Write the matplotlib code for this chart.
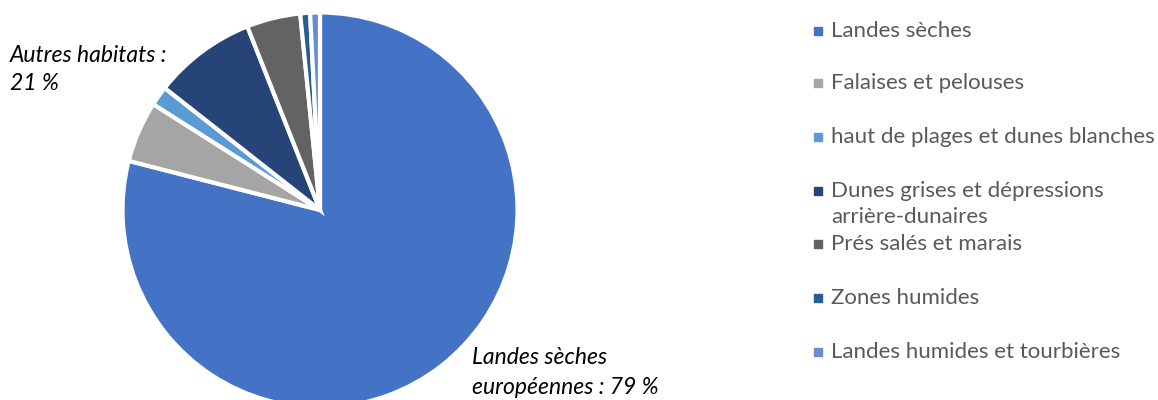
import matplotlib.pyplot as plt
from matplotlib.patches import Rectangle

plt.rcParams['font.family'] = ['Lato', 'DejaVu Sans']

categories = ['Landes sèches', 'Falaises et pelouses', 'haut de plages et dunes blanches',
              'Dunes grises et dépressions\narrière-dunaires', 'Prés salés et marais',
              'Zones humides', 'Landes humides et tourbières']
values = [79.0, 5.0, 1.6, 8.4, 4.4, 0.8, 0.8]
colors = ['#4472C4', '#A5A5A5', '#5B9BD5', '#264478', '#636363', '#255E91', '#698ED0']
label_autres = 'Autres habitats :\n21 %'
label_landes = 'Landes sèches\neuropéennes : 79 %'

W, H = 1158, 400
fig = plt.figure(figsize=(W / 100, H / 100), dpi=100)

# pie axes: centre (320, 210) px, radius ~197 px
cx, cy, r = 320, 210, 197.5
ax = fig.add_axes([(cx - r) / W, (H - cy - r) / H, 2 * r / W, 2 * r / H])
ax.pie(values, colors=colors, startangle=90, counterclock=False, radius=1,
       wedgeprops=dict(edgecolor='white', linewidth=3))
ax.set_xlim(-1, 1)
ax.set_ylim(-1, 1)
ax.set_aspect('equal')
ax.axis('off')


def put_lines(x, y0, text, step, **kw):
    # one text per line so the line gap can be set in pixels
    for i, line in enumerate(text.split('\n')):
        fig.text(x / W, 1 - (y0 + i * step) / H, line, va='center', ha='left', **kw)


# data labels
put_lines(10, 55, label_autres, 29, fontsize=16.5, style='italic', color='black')
put_lines(472, 357, label_landes, 30, fontsize=16.5, style='italic', color='black')

# legend
ys = [31, 83, 137, 191, 244, 298, 352]
for y, lab, c in zip(ys, categories, colors):
    fig.patches.append(Rectangle((814 / W, 1 - (y + 4) / H), 8 / W, 8 / H,
                                 transform=fig.transFigure, color=c))
    put_lines(831, y, lab, 26, fontsize=16, color='#595959')

fig.savefig('out.png', dpi=100)
